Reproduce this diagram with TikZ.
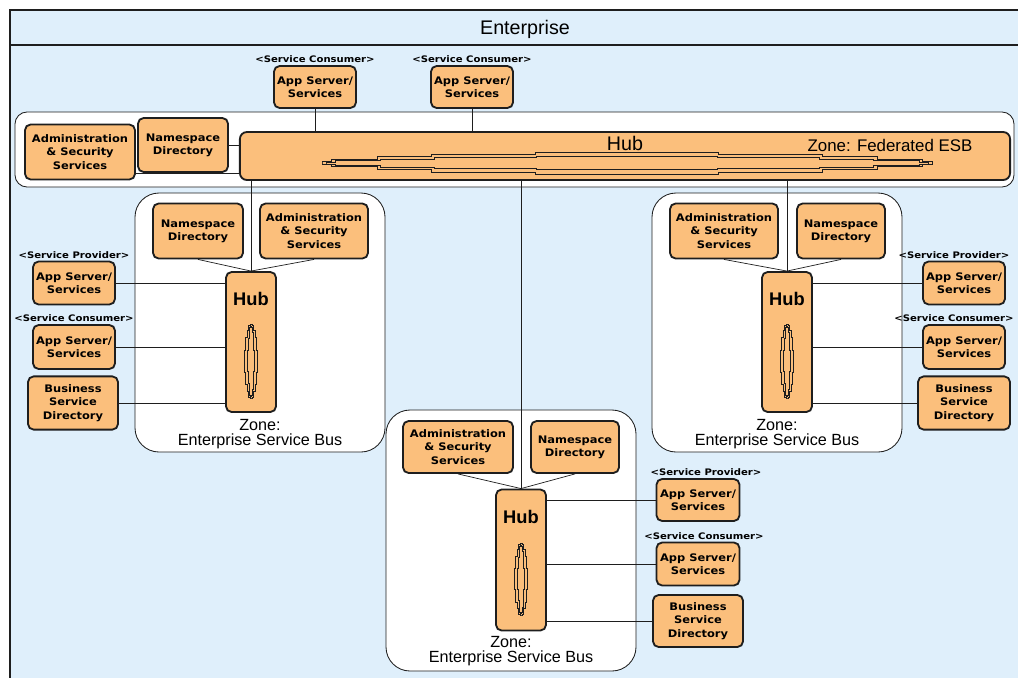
\documentclass[tikz,border=0pt]{standalone}
\usepackage{fontspec}
\setmainfont{Liberation Sans}
\newfontfamily\boxfamily{DejaVu Sans}[FakeStretch=1.1]
\newfontfamily\tagfamily{DejaVu Sans}[FakeStretch=1.12]
\usetikzlibrary{positioning,calc}
\definecolor{Peach}{HTML}{FBBF7C}
\definecolor{Sky}{HTML}{DFEFFB}
\definecolor{Edge}{HTML}{1E1E1E}

\tikzset{
  svc/.style={draw=Edge,line width=1.3pt,fill=Peach,rounded corners=4pt,align=center,
    font=\boxfamily\bfseries\fontsize{7.4}{9.4}\selectfont,inner sep=1pt},
  tag/.style={font=\tagfamily\bfseries\fontsize{6.4}{7}\selectfont,inner sep=0.5pt},
  zone/.style={draw=Edge,fill=white,rounded corners=0.6cm,line width=.6pt},
  zonetext/.style={align=center,font=\fontsize{11.5}{10.5}\selectfont,inner sep=0pt},
  hubbox/.style={svc,minimum width=1.25cm,minimum height=3.5cm},
  hubtext/.style={font=\bfseries\fontsize{13}{14}\selectfont,inner sep=0pt},
  link/.style={draw=Edge,line width=.7pt},
  lensline/.style={draw=Edge,line width=.55pt},
  esb lens/.pic={
    \draw[lensline] (-1,0) -- (-1,.15) -- (-.97,.15) -- (-.97,.35) -- (-.82,.35) -- (-.82,.6)
      -- (-.64,.6) -- (-.64,.82) -- (-.3,.82) -- (-.3,1) -- (.3,1) -- (.3,.82) -- (.64,.82)
      -- (.64,.6) -- (.82,.6) -- (.82,.35) -- (.97,.35) -- (.97,.15) -- (1,.15) -- (1,-.15)
      -- (.97,-.15) -- (.97,-.35) -- (.82,-.35) -- (.82,-.6) -- (.64,-.6) -- (.64,-.82)
      -- (.3,-.82) -- (.3,-1) -- (-.3,-1) -- (-.3,-.82) -- (-.64,-.82) -- (-.64,-.6)
      -- (-.82,-.6) -- (-.82,-.35) -- (-.97,-.35) -- (-.97,-.15) -- (-1,-.15) -- cycle;
  }
}

\begin{document}
\begin{tikzpicture}[x=0.025cm,y=-0.025cm,node distance=1pt]
  \useasboundingbox (0,0) rectangle (1018,677);
  \clip (0,0) rectangle (1018,677);
  \fill[white] (0,0) rectangle (1018,677);

  % enterprise frame
  \fill[Sky] (10,10) rectangle (1030,690);
  \draw[Edge,line width=.8pt] (1030,10) -- (10,10) -- (10,690);
  \draw[Edge,line width=.8pt] (10,45) -- (1030,45);
  \node[font=\fontsize{14}{16}\selectfont] (title) at (525,29) {Enterprise};

  % zones
  \draw[zone,rounded corners=0.3cm] (15,112) rectangle (1014,187);
  \draw[zone] (135,193) rectangle (385,452);
  \draw[zone] (652,193) rectangle (902,452);
  \draw[zone] (386,410) rectangle (636,671);

  % federated ESB
  \node[svc,minimum width=2.05cm,minimum height=1.05cm] (tc1) at (315,87) {App Server/\\Services};
  \node[svc,minimum width=2.05cm,minimum height=1.05cm] (tc2) at (472,87) {App Server/\\Services};
  \node[tag,above=of tc1] {<Service Consumer>};
  \node[tag,above=of tc2] {<Service Consumer>};
  \node[svc,minimum width=19.25cm,minimum height=1.2cm,rounded corners=5pt] (fhub) at (625,156) {};
  \node[font=\fontsize{14}{16}\selectfont,inner sep=0pt] at (625,143) {Hub};
  \node[font=\fontsize{12}{14}\selectfont,inner sep=0pt] at (890,145) {Zone: Federated ESB};
  \pic[xscale=305,yscale=11] at (627,163) {esb lens};
  \pic[xscale=301,yscale=6.5] at (627,163) {esb lens};
  \node[svc,minimum width=2.75cm,minimum height=1.375cm] (fadm) at (80,152) {Administration\\\& Security\\Services};
  \node[svc,minimum width=2.25cm,minimum height=1.35cm] (fns) at (183,145) {Namespace\\Directory};

  % left ESB
  \node[svc,minimum width=2.25cm,minimum height=1.375cm] (lns) at (198,231) {Namespace\\Directory};
  \node[svc,minimum width=2.7cm,minimum height=1.375cm] (ladm) at (314,231) {Administration\\\& Security\\Services};
  \node[hubbox] (lhub) at (251,342) {};
  \node[hubtext] at ([yshift=-0.7cm]lhub.north) {Hub};
  \pic[rotate=90,xscale=37,yscale=6.5] at (251,361) {esb lens};
  \pic[rotate=90,xscale=35,yscale=3.5] at (251,361) {esb lens};
  \node[svc,minimum width=2.05cm,minimum height=1.075cm] (lprov) at (74,283) {App Server/\\Services};
  \node[svc,minimum width=2.05cm,minimum height=1.1cm] (lcons) at (74,347) {App Server/\\Services};
  \node[svc,minimum width=2.25cm,minimum height=1.33cm] (lbsd) at (73,403) {Business\\Service\\Directory};
  \node[tag,above=of lprov] {<Service Provider>};
  \node[tag,above=of lcons] {<Service Consumer>};
  \node[zonetext] at (260,434) {Zone:\\Enterprise Service Bus};

  % right ESB
  \node[svc,minimum width=2.7cm,minimum height=1.375cm] (radm) at (724,231) {Administration\\\& Security\\Services};
  \node[svc,minimum width=2.2cm,minimum height=1.375cm] (rns) at (841,231) {Namespace\\Directory};
  \node[hubbox] (rhub) at (787,342) {};
  \node[hubtext] at ([yshift=-0.7cm]rhub.north) {Hub};
  \pic[rotate=90,xscale=37,yscale=6.5] at (787,361) {esb lens};
  \pic[rotate=90,xscale=35,yscale=3.5] at (787,361) {esb lens};
  \node[svc,minimum width=2.05cm,minimum height=1.075cm] (rprov) at (964,283) {App Server/\\Services};
  \node[svc,minimum width=2.05cm,minimum height=1.1cm] (rcons) at (964,347) {App Server/\\Services};
  \node[svc,minimum width=2.3cm,minimum height=1.33cm] (rbsd) at (964,403) {Business\\Service\\Directory};
  \node[tag,above=of rprov,xshift=-0.25cm] {<Service Provider>};
  \node[tag,above=of rcons,xshift=-0.25cm] {<Service Consumer>};
  \node[zonetext] at (777,434) {Zone:\\Enterprise Service Bus};

  % bottom ESB
  \node[svc,minimum width=2.75cm,minimum height=1.3cm] (badm) at (458,447) {Administration\\\& Security\\Services};
  \node[svc,minimum width=2.2cm,minimum height=1.3cm] (bns) at (575,447) {Namespace\\Directory};
  \node[hubbox,minimum height=3.525cm] (bhub) at (521,560) {};
  \node[hubtext] at ([yshift=-0.7cm]bhub.north) {Hub};
  \pic[rotate=90,xscale=36,yscale=6.5] at (521,579) {esb lens};
  \pic[rotate=90,xscale=34,yscale=3.5] at (521,579) {esb lens};
  \node[svc,minimum width=2.075cm,minimum height=1.05cm] (bprov) at (698,500) {App Server/\\Services};
  \node[svc,minimum width=2.075cm,minimum height=1.075cm] (bcons) at (698,564) {App Server/\\Services};
  \node[svc,minimum width=2.25cm,minimum height=1.3cm] (bbsd) at (698,621) {Business\\Service\\Directory};
  \node[tag,above=of bprov,xshift=0.2cm] {<Service Provider>};
  \node[tag,above=of bcons,xshift=0.15cm] {<Service Consumer>};
  \node[zonetext] at (511,651) {Zone:\\Enterprise Service Bus};

  % connectors
  \foreach \t in {tc1,tc2}
    \draw[link] (\t.south) -- (\t.south |- fhub.north);
  \draw[link] (fns.east) -- (fns.east -| fhub.west);
  \draw[link] ([yshift=0.18cm]fadm.south east) -- ([yshift=0.18cm]fadm.south east -| fhub.west);
  \foreach \h in {lhub,rhub,bhub}
    \draw[link] (fhub.south -| \h.north) -- (\h.north);
  \foreach \b/\h in {lns/lhub,ladm/lhub,radm/rhub,rns/rhub,badm/bhub,bns/bhub}
    \draw[link,line width=.5pt] (\b.south) -- (\h.north);
  \foreach \b in {lprov,lcons,lbsd}
    \draw[link] (\b.east) -- (\b.east -| lhub.west);
  \foreach \b in {rprov,rcons,rbsd}
    \draw[link] (\b.west) -- (\b.west -| rhub.east);
  \foreach \b in {bprov,bcons,bbsd}
    \draw[link] (\b.west) -- (\b.west -| bhub.east);
\end{tikzpicture}
\end{document}
